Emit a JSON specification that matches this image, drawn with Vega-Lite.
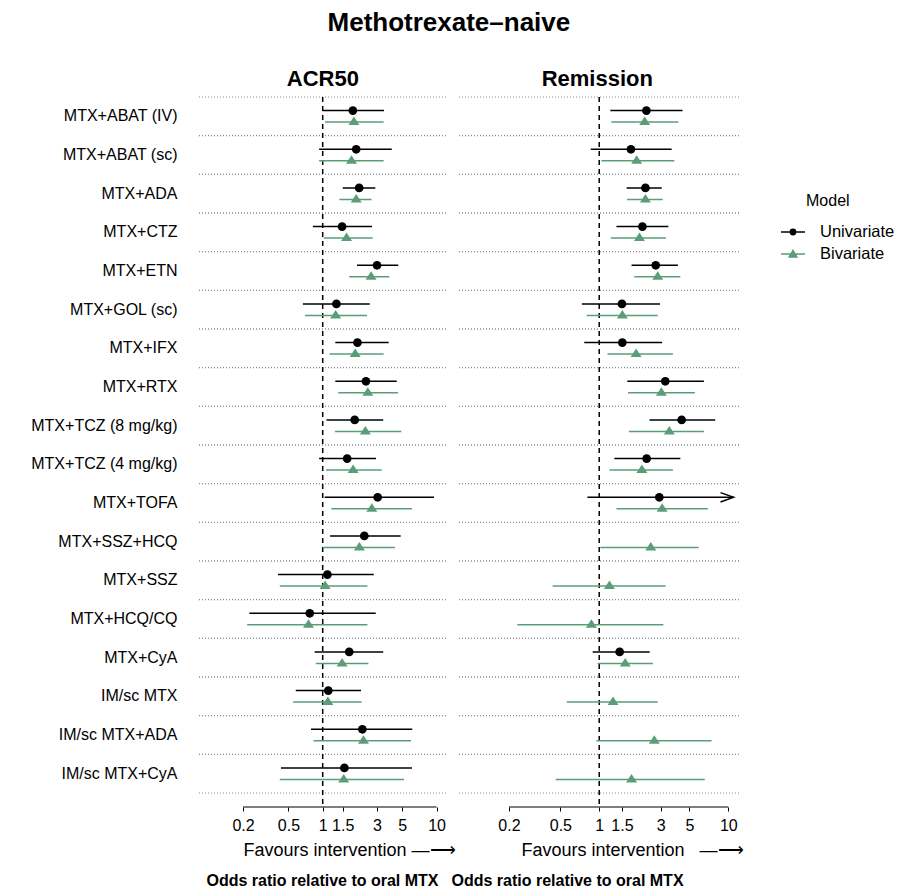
{
  "$schema": "https://vega.github.io/schema/vega-lite/v6.json",
  "background": "white",
  "padding": {"left": 30, "top": 10, "right": 0, "bottom": 0},
  "title": {"text": "Methotrexate–naive", "fontSize": 26, "fontWeight": "bold", "anchor": "middle", "offset": 32, "dx": -14},
  "datasets": {
    "acr": [
      {"treatment": "MTX+ABAT (IV)", "model": "Univariate", "or": 1.84, "lo": 1.00, "hi": 3.46},
      {"treatment": "MTX+ABAT (IV)", "model": "Bivariate", "or": 1.88, "lo": 1.05, "hi": 3.43},
      {"treatment": "MTX+ABAT (sc)", "model": "Univariate", "or": 1.97, "lo": 0.93, "hi": 4.04},
      {"treatment": "MTX+ABAT (sc)", "model": "Bivariate", "or": 1.79, "lo": 0.93, "hi": 3.43},
      {"treatment": "MTX+ADA", "model": "Univariate", "or": 2.09, "lo": 1.50, "hi": 2.90},
      {"treatment": "MTX+ADA", "model": "Bivariate", "or": 1.97, "lo": 1.40, "hi": 2.68},
      {"treatment": "MTX+CTZ", "model": "Univariate", "or": 1.48, "lo": 0.82, "hi": 2.71},
      {"treatment": "MTX+CTZ", "model": "Bivariate", "or": 1.62, "lo": 1.02, "hi": 2.75},
      {"treatment": "MTX+ETN", "model": "Univariate", "or": 3.00, "lo": 2.00, "hi": 4.61},
      {"treatment": "MTX+ETN", "model": "Bivariate", "or": 2.66, "lo": 1.71, "hi": 3.84},
      {"treatment": "MTX+GOL (sc)", "model": "Univariate", "or": 1.32, "lo": 0.67, "hi": 2.59},
      {"treatment": "MTX+GOL (sc)", "model": "Bivariate", "or": 1.30, "lo": 0.70, "hi": 2.45},
      {"treatment": "MTX+IFX", "model": "Univariate", "or": 2.02, "lo": 1.29, "hi": 3.80},
      {"treatment": "MTX+IFX", "model": "Bivariate", "or": 1.93, "lo": 1.15, "hi": 3.43},
      {"treatment": "MTX+RTX", "model": "Univariate", "or": 2.40, "lo": 1.29, "hi": 4.47},
      {"treatment": "MTX+RTX", "model": "Bivariate", "or": 2.49, "lo": 1.37, "hi": 4.58},
      {"treatment": "MTX+TCZ (8 mg/kg)", "model": "Univariate", "or": 1.91, "lo": 1.08, "hi": 3.40},
      {"treatment": "MTX+TCZ (8 mg/kg)", "model": "Bivariate", "or": 2.37, "lo": 1.28, "hi": 4.90},
      {"treatment": "MTX+TCZ (4 mg/kg)", "model": "Univariate", "or": 1.64, "lo": 0.93, "hi": 2.94},
      {"treatment": "MTX+TCZ (4 mg/kg)", "model": "Bivariate", "or": 1.85, "lo": 1.07, "hi": 3.30},
      {"treatment": "MTX+TOFA", "model": "Univariate", "or": 3.04, "lo": 1.04, "hi": 9.49},
      {"treatment": "MTX+TOFA", "model": "Bivariate", "or": 2.70, "lo": 1.19, "hi": 6.08},
      {"treatment": "MTX+SSZ+HCQ", "model": "Univariate", "or": 2.32, "lo": 1.16, "hi": 4.84},
      {"treatment": "MTX+SSZ+HCQ", "model": "Bivariate", "or": 2.10, "lo": 1.00, "hi": 4.31},
      {"treatment": "MTX+SSZ", "model": "Univariate", "or": 1.10, "lo": 0.405, "hi": 2.81},
      {"treatment": "MTX+SSZ", "model": "Bivariate", "or": 1.05, "lo": 0.42, "hi": 2.47},
      {"treatment": "MTX+HCQ/CQ", "model": "Univariate", "or": 0.77, "lo": 0.227, "hi": 2.92},
      {"treatment": "MTX+HCQ/CQ", "model": "Bivariate", "or": 0.75, "lo": 0.217, "hi": 2.47},
      {"treatment": "MTX+CyA", "model": "Univariate", "or": 1.71, "lo": 0.85, "hi": 3.40},
      {"treatment": "MTX+CyA", "model": "Bivariate", "or": 1.48, "lo": 0.87, "hi": 2.52},
      {"treatment": "IM/sc MTX", "model": "Univariate", "or": 1.12, "lo": 0.58, "hi": 2.17},
      {"treatment": "IM/sc MTX", "model": "Bivariate", "or": 1.11, "lo": 0.55, "hi": 2.20},
      {"treatment": "IM/sc MTX+ADA", "model": "Univariate", "or": 2.23, "lo": 0.79, "hi": 6.12},
      {"treatment": "IM/sc MTX+ADA", "model": "Bivariate", "or": 2.28, "lo": 0.83, "hi": 5.96},
      {"treatment": "IM/sc MTX+CyA", "model": "Univariate", "or": 1.55, "lo": 0.43, "hi": 6.08},
      {"treatment": "IM/sc MTX+CyA", "model": "Bivariate", "or": 1.53, "lo": 0.42, "hi": 5.17}
    ],
    "rem": [
      {"treatment": "MTX+ABAT (IV)", "model": "Univariate", "or": 2.32, "lo": 1.22, "hi": 4.42},
      {"treatment": "MTX+ABAT (IV)", "model": "Bivariate", "or": 2.25, "lo": 1.24, "hi": 4.10},
      {"treatment": "MTX+ABAT (sc)", "model": "Univariate", "or": 1.76, "lo": 0.86, "hi": 3.64},
      {"treatment": "MTX+ABAT (sc)", "model": "Bivariate", "or": 1.95, "lo": 1.04, "hi": 3.82},
      {"treatment": "MTX+ADA", "model": "Univariate", "or": 2.28, "lo": 1.63, "hi": 3.05},
      {"treatment": "MTX+ADA", "model": "Bivariate", "or": 2.28, "lo": 1.64, "hi": 3.10},
      {"treatment": "MTX+CTZ", "model": "Univariate", "or": 2.16, "lo": 1.36, "hi": 3.43},
      {"treatment": "MTX+CTZ", "model": "Bivariate", "or": 2.05, "lo": 1.23, "hi": 3.29},
      {"treatment": "MTX+ETN", "model": "Univariate", "or": 2.74, "lo": 1.78, "hi": 4.07},
      {"treatment": "MTX+ETN", "model": "Bivariate", "or": 2.84, "lo": 1.87, "hi": 4.25},
      {"treatment": "MTX+GOL (sc)", "model": "Univariate", "or": 1.50, "lo": 0.735, "hi": 2.96},
      {"treatment": "MTX+GOL (sc)", "model": "Bivariate", "or": 1.51, "lo": 0.80, "hi": 2.84},
      {"treatment": "MTX+IFX", "model": "Univariate", "or": 1.51, "lo": 0.766, "hi": 3.07},
      {"treatment": "MTX+IFX", "model": "Bivariate", "or": 1.93, "lo": 1.16, "hi": 3.72},
      {"treatment": "MTX+RTX", "model": "Univariate", "or": 3.25, "lo": 1.65, "hi": 6.47},
      {"treatment": "MTX+RTX", "model": "Bivariate", "or": 3.03, "lo": 1.67, "hi": 5.51},
      {"treatment": "MTX+TCZ (8 mg/kg)", "model": "Univariate", "or": 4.35, "lo": 2.45, "hi": 7.92},
      {"treatment": "MTX+TCZ (8 mg/kg)", "model": "Bivariate", "or": 3.49, "lo": 1.70, "hi": 6.47},
      {"treatment": "MTX+TCZ (4 mg/kg)", "model": "Univariate", "or": 2.33, "lo": 1.31, "hi": 4.25},
      {"treatment": "MTX+TCZ (4 mg/kg)", "model": "Bivariate", "or": 2.14, "lo": 1.20, "hi": 3.72},
      {"treatment": "MTX+TOFA", "model": "Univariate", "or": 2.92, "lo": 0.81, "hi": 11.0},
      {"treatment": "MTX+TOFA", "model": "Bivariate", "or": 3.07, "lo": 1.36, "hi": 6.94},
      {"treatment": "MTX+SSZ+HCQ", "model": "Bivariate", "or": 2.51, "lo": 1.02, "hi": 5.89},
      {"treatment": "MTX+SSZ", "model": "Bivariate", "or": 1.20, "lo": 0.436, "hi": 3.27},
      {"treatment": "MTX+HCQ/CQ", "model": "Bivariate", "or": 0.87, "lo": 0.232, "hi": 3.14},
      {"treatment": "MTX+CyA", "model": "Univariate", "or": 1.44, "lo": 0.89, "hi": 2.46},
      {"treatment": "MTX+CyA", "model": "Bivariate", "or": 1.59, "lo": 0.97, "hi": 2.61},
      {"treatment": "IM/sc MTX", "model": "Bivariate", "or": 1.28, "lo": 0.56, "hi": 2.84},
      {"treatment": "IM/sc MTX+ADA", "model": "Bivariate", "or": 2.67, "lo": 0.95, "hi": 7.42},
      {"treatment": "IM/sc MTX+CyA", "model": "Bivariate", "or": 1.78, "lo": 0.46, "hi": 6.57}
    ],
    "axisline": [{"a": 0.2, "b": 10}],
    "ref": [{"ref": 1}]
  },
  "spacing": -5,
  "hconcat": [
    {
      "title": {"text": "ACR50", "fontSize": 22, "fontWeight": "bold", "anchor": "start", "dx": 256, "offset": 5},
      "vconcat": [
        {
          "width": 247,
          "height": 710,
          "title": {"text": "Odds ratio relative to oral MTX", "orient": "bottom", "fontSize": 16, "fontWeight": "bold", "anchor": "middle", "offset": 14},
          "data": {"name": "acr"},
          "layer": [
            {
              "transform": [{"filter": "datum.model == 'Bivariate'"}],
              "mark": {"type": "rule", "strokeDash": [1, 2], "color": "#8a8a8a", "strokeWidth": 1},
              "encoding": {
                "y": {"field": "treatment", "type": "nominal", "bandPosition": 0,
                  "sort": ["MTX+ABAT (IV)", "MTX+ABAT (sc)", "MTX+ADA", "MTX+CTZ", "MTX+ETN", "MTX+GOL (sc)", "MTX+IFX", "MTX+RTX", "MTX+TCZ (8 mg/kg)", "MTX+TCZ (4 mg/kg)", "MTX+TOFA", "MTX+SSZ+HCQ", "MTX+SSZ", "MTX+HCQ/CQ", "MTX+CyA", "IM/sc MTX", "IM/sc MTX+ADA", "IM/sc MTX+CyA"],
                  "scale": {"range": [0, 696], "paddingInner": 0, "paddingOuter": 0},
                  "axis": {"title": null}}
              }
            },
            {
              "transform": [{"filter": "datum.model == 'Bivariate'"}],
              "mark": {"type": "rule", "strokeDash": [1, 2], "color": "#8a8a8a", "strokeWidth": 1},
              "encoding": {
                "y": {"field": "treatment", "type": "nominal", "bandPosition": 1,
                  "sort": ["MTX+ABAT (IV)", "MTX+ABAT (sc)", "MTX+ADA", "MTX+CTZ", "MTX+ETN", "MTX+GOL (sc)", "MTX+IFX", "MTX+RTX", "MTX+TCZ (8 mg/kg)", "MTX+TCZ (4 mg/kg)", "MTX+TOFA", "MTX+SSZ+HCQ", "MTX+SSZ", "MTX+HCQ/CQ", "MTX+CyA", "IM/sc MTX", "IM/sc MTX+ADA", "IM/sc MTX+CyA"],
                  "axis": {"title": null}}
              }
            },
            {
              "data": {"name": "ref"},
              "mark": {"type": "rule", "strokeDash": [5, 4], "color": "black", "strokeWidth": 1.5},
              "encoding": {
                "x": {"field": "ref", "type": "quantitative", "scale": {"type": "log", "domain": [0.082, 12.1], "nice": false},
                  "axis": {"values": [0.2, 0.5, 1, 1.5, 3, 5, 10], "format": "~g", "title": "Favours intervention —⟶", "titleAnchor": "start", "titleAlign": "left", "titleX": 44}}
              }
            },
            {
              "data": {"name": "axisline"},
              "mark": {"type": "rule", "color": "black", "strokeWidth": 1},
              "encoding": {
                "x": {"field": "a", "type": "quantitative", "scale": {"type": "log", "domain": [0.082, 12.1], "nice": false},
                  "axis": {"values": [0.2, 0.5, 1, 1.5, 3, 5, 10], "format": "~g", "title": "Favours intervention —⟶", "titleAnchor": "start", "titleAlign": "left", "titleX": 44}},
                "x2": {"field": "b"},
                "y": {"value": "height"}
              }
            },
            {
              "mark": {"type": "rule", "strokeWidth": 1.5},
              "encoding": {
                "y": {"field": "treatment", "type": "nominal",
                  "sort": ["MTX+ABAT (IV)", "MTX+ABAT (sc)", "MTX+ADA", "MTX+CTZ", "MTX+ETN", "MTX+GOL (sc)", "MTX+IFX", "MTX+RTX", "MTX+TCZ (8 mg/kg)", "MTX+TCZ (4 mg/kg)", "MTX+TOFA", "MTX+SSZ+HCQ", "MTX+SSZ", "MTX+HCQ/CQ", "MTX+CyA", "IM/sc MTX", "IM/sc MTX+ADA", "IM/sc MTX+CyA"],
                  "axis": {"title": null}},
                "yOffset": {"field": "model", "type": "nominal", "sort": ["Univariate", "Bivariate"], "scale": {"domain": ["Univariate", "Bivariate"], "paddingInner": 0, "paddingOuter": 0.69}},
                "x": {"field": "lo", "type": "quantitative", "scale": {"type": "log", "domain": [0.082, 12.1], "nice": false},
                  "axis": {"values": [0.2, 0.5, 1, 1.5, 3, 5, 10], "format": "~g", "title": "Favours intervention —⟶", "titleAnchor": "start", "titleAlign": "left", "titleX": 44}},
                "x2": {"field": "hi"},
                "color": {"field": "model", "type": "nominal", "sort": ["Univariate", "Bivariate"], "scale": {"domain": ["Univariate", "Bivariate"], "range": ["#000000", "#5A9E78"]},
                  "legend": {"title": "Model", "orient": "none", "legendX": 581, "legendY": 96, "titleFontSize": 16, "titleFontWeight": "normal", "titleColor": "black", "titleAnchor": "start", "labelFontSize": 16.5, "labelColor": "black", "symbolType": "M-1,0L1,0M0.22,0A0.22,0.22,0,1,1,-0.22,0A0.22,0.22,0,1,1,0.22,0Z", "symbolSize": 576, "symbolStrokeWidth": 1.5, "symbolOpacity": 1, "rowPadding": -5, "titlePadding": 10, "labelOffset": 14,
                    "encoding": {
                      "symbols": {
                        "shape": {"value": {"expr": "datum.value === 'Univariate' ? 'M-1,0L1,0M0.22,0A0.22,0.22,0,1,1,-0.22,0A0.22,0.22,0,1,1,0.22,0Z' : 'M-1,0L1,0M0,-0.3L-0.32,0.24L0.32,0.24Z'"}},
                        "stroke": {"value": {"expr": "datum.value === 'Univariate' ? '#000000' : '#5A9E78'"}},
                        "fill": {"value": {"expr": "datum.value === 'Univariate' ? '#000000' : '#5A9E78'"}},
                        "strokeWidth": {"value": 1.5}
                      },
                      "title": {"dx": {"value": 26}}
                    }}}
              }
            },
            {
              "transform": [{"filter": "datum.model == 'Univariate'"}],
              "mark": {"type": "point", "filled": true, "opacity": 1, "shape": "circle", "size": 76},
              "encoding": {
                "y": {"field": "treatment", "type": "nominal",
                  "sort": ["MTX+ABAT (IV)", "MTX+ABAT (sc)", "MTX+ADA", "MTX+CTZ", "MTX+ETN", "MTX+GOL (sc)", "MTX+IFX", "MTX+RTX", "MTX+TCZ (8 mg/kg)", "MTX+TCZ (4 mg/kg)", "MTX+TOFA", "MTX+SSZ+HCQ", "MTX+SSZ", "MTX+HCQ/CQ", "MTX+CyA", "IM/sc MTX", "IM/sc MTX+ADA", "IM/sc MTX+CyA"],
                  "axis": {"title": null}},
                "yOffset": {"field": "model", "type": "nominal", "sort": ["Univariate", "Bivariate"], "scale": {"domain": ["Univariate", "Bivariate"], "paddingInner": 0, "paddingOuter": 0.69}},
                "x": {"field": "or", "type": "quantitative", "scale": {"type": "log", "domain": [0.082, 12.1], "nice": false},
                  "axis": {"values": [0.2, 0.5, 1, 1.5, 3, 5, 10], "format": "~g", "title": "Favours intervention —⟶", "titleAnchor": "start", "titleAlign": "left", "titleX": 44}},
                "color": {"field": "model", "type": "nominal", "sort": ["Univariate", "Bivariate"], "scale": {"domain": ["Univariate", "Bivariate"], "range": ["#000000", "#5A9E78"]}}
              }
            },
            {
              "transform": [{"filter": "datum.model == 'Bivariate'"}],
              "mark": {"type": "point", "filled": true, "opacity": 1, "shape": "M0,-1.1L-1.1,0.6L1.1,0.6Z", "size": 100},
              "encoding": {
                "y": {"field": "treatment", "type": "nominal",
                  "sort": ["MTX+ABAT (IV)", "MTX+ABAT (sc)", "MTX+ADA", "MTX+CTZ", "MTX+ETN", "MTX+GOL (sc)", "MTX+IFX", "MTX+RTX", "MTX+TCZ (8 mg/kg)", "MTX+TCZ (4 mg/kg)", "MTX+TOFA", "MTX+SSZ+HCQ", "MTX+SSZ", "MTX+HCQ/CQ", "MTX+CyA", "IM/sc MTX", "IM/sc MTX+ADA", "IM/sc MTX+CyA"],
                  "axis": {"title": null}},
                "yOffset": {"field": "model", "type": "nominal", "sort": ["Univariate", "Bivariate"], "scale": {"domain": ["Univariate", "Bivariate"], "paddingInner": 0, "paddingOuter": 0.69}},
                "x": {"field": "or", "type": "quantitative", "scale": {"type": "log", "domain": [0.082, 12.1], "nice": false},
                  "axis": {"values": [0.2, 0.5, 1, 1.5, 3, 5, 10], "format": "~g", "title": "Favours intervention —⟶", "titleAnchor": "start", "titleAlign": "left", "titleX": 44}},
                "color": {"field": "model", "type": "nominal", "sort": ["Univariate", "Bivariate"], "scale": {"domain": ["Univariate", "Bivariate"], "range": ["#000000", "#5A9E78"]}}
              }
            }
          ]
        }
      ]
    },
    {
      "title": {"text": "Remission", "fontSize": 22, "fontWeight": "bold", "anchor": "middle", "offset": 5},
      "vconcat": [
        {
          "width": 280,
          "height": 710,
          "title": {"text": "Odds ratio relative to oral MTX", "orient": "bottom", "fontSize": 16, "fontWeight": "bold", "anchor": "start", "dx": -7, "offset": 14},
          "data": {"name": "rem"},
          "layer": [
            {
              "transform": [{"filter": "datum.model == 'Bivariate'"}],
              "mark": {"type": "rule", "strokeDash": [1, 2], "color": "#8a8a8a", "strokeWidth": 1},
              "encoding": {
                "y": {"field": "treatment", "type": "nominal", "bandPosition": 0,
                  "sort": ["MTX+ABAT (IV)", "MTX+ABAT (sc)", "MTX+ADA", "MTX+CTZ", "MTX+ETN", "MTX+GOL (sc)", "MTX+IFX", "MTX+RTX", "MTX+TCZ (8 mg/kg)", "MTX+TCZ (4 mg/kg)", "MTX+TOFA", "MTX+SSZ+HCQ", "MTX+SSZ", "MTX+HCQ/CQ", "MTX+CyA", "IM/sc MTX", "IM/sc MTX+ADA", "IM/sc MTX+CyA"],
                  "scale": {"range": [0, 696], "paddingInner": 0, "paddingOuter": 0},
                  "axis": null}
              }
            },
            {
              "transform": [{"filter": "datum.model == 'Bivariate'"}],
              "mark": {"type": "rule", "strokeDash": [1, 2], "color": "#8a8a8a", "strokeWidth": 1},
              "encoding": {
                "y": {"field": "treatment", "type": "nominal", "bandPosition": 1,
                  "sort": ["MTX+ABAT (IV)", "MTX+ABAT (sc)", "MTX+ADA", "MTX+CTZ", "MTX+ETN", "MTX+GOL (sc)", "MTX+IFX", "MTX+RTX", "MTX+TCZ (8 mg/kg)", "MTX+TCZ (4 mg/kg)", "MTX+TOFA", "MTX+SSZ+HCQ", "MTX+SSZ", "MTX+HCQ/CQ", "MTX+CyA", "IM/sc MTX", "IM/sc MTX+ADA", "IM/sc MTX+CyA"],
                  "axis": null}
              }
            },
            {
              "data": {"name": "ref"},
              "mark": {"type": "rule", "strokeDash": [5, 4], "color": "black", "strokeWidth": 1.5},
              "encoding": {
                "x": {"field": "ref", "type": "quantitative", "scale": {"type": "log", "domain": [0.082, 12.1], "nice": false},
                  "axis": {"values": [0.2, 0.5, 1, 1.5, 3, 5, 10], "format": "~g", "title": "Favours intervention\u00a0\u00a0\u00a0—⟶", "titleAnchor": "start", "titleAlign": "left", "titleX": 62}}
              }
            },
            {
              "data": {"name": "axisline"},
              "mark": {"type": "rule", "color": "black", "strokeWidth": 1},
              "encoding": {
                "x": {"field": "a", "type": "quantitative", "scale": {"type": "log", "domain": [0.082, 12.1], "nice": false},
                  "axis": {"values": [0.2, 0.5, 1, 1.5, 3, 5, 10], "format": "~g", "title": "Favours intervention\u00a0\u00a0\u00a0—⟶", "titleAnchor": "start", "titleAlign": "left", "titleX": 62}},
                "x2": {"field": "b"},
                "y": {"value": "height"}
              }
            },
            {
              "mark": {"type": "rule", "strokeWidth": 1.5},
              "encoding": {
                "y": {"field": "treatment", "type": "nominal",
                  "sort": ["MTX+ABAT (IV)", "MTX+ABAT (sc)", "MTX+ADA", "MTX+CTZ", "MTX+ETN", "MTX+GOL (sc)", "MTX+IFX", "MTX+RTX", "MTX+TCZ (8 mg/kg)", "MTX+TCZ (4 mg/kg)", "MTX+TOFA", "MTX+SSZ+HCQ", "MTX+SSZ", "MTX+HCQ/CQ", "MTX+CyA", "IM/sc MTX", "IM/sc MTX+ADA", "IM/sc MTX+CyA"],
                  "axis": null},
                "yOffset": {"field": "model", "type": "nominal", "sort": ["Univariate", "Bivariate"], "scale": {"domain": ["Univariate", "Bivariate"], "paddingInner": 0, "paddingOuter": 0.69}},
                "x": {"field": "lo", "type": "quantitative", "scale": {"type": "log", "domain": [0.082, 12.1], "nice": false},
                  "axis": {"values": [0.2, 0.5, 1, 1.5, 3, 5, 10], "format": "~g", "title": "Favours intervention\u00a0\u00a0\u00a0—⟶", "titleAnchor": "start", "titleAlign": "left", "titleX": 62}},
                "x2": {"field": "hi"},
                "color": {"field": "model", "type": "nominal", "sort": ["Univariate", "Bivariate"], "scale": {"domain": ["Univariate", "Bivariate"], "range": ["#000000", "#5A9E78"]},
                  "legend": {"title": "Model", "orient": "none", "legendX": 581, "legendY": 96, "titleFontSize": 16, "titleFontWeight": "normal", "titleColor": "black", "titleAnchor": "start", "labelFontSize": 16.5, "labelColor": "black", "symbolType": "M-1,0L1,0M0.22,0A0.22,0.22,0,1,1,-0.22,0A0.22,0.22,0,1,1,0.22,0Z", "symbolSize": 576, "symbolStrokeWidth": 1.5, "symbolOpacity": 1, "rowPadding": -5, "titlePadding": 10, "labelOffset": 14,
                    "encoding": {
                      "symbols": {
                        "shape": {"value": {"expr": "datum.value === 'Univariate' ? 'M-1,0L1,0M0.22,0A0.22,0.22,0,1,1,-0.22,0A0.22,0.22,0,1,1,0.22,0Z' : 'M-1,0L1,0M0,-0.3L-0.32,0.24L0.32,0.24Z'"}},
                        "stroke": {"value": {"expr": "datum.value === 'Univariate' ? '#000000' : '#5A9E78'"}},
                        "fill": {"value": {"expr": "datum.value === 'Univariate' ? '#000000' : '#5A9E78'"}},
                        "strokeWidth": {"value": 1.5}
                      },
                      "title": {"dx": {"value": 26}}
                    }}}
              }
            },
            {
              "transform": [{"filter": "datum.hi >= 11"}],
              "mark": {"type": "point", "filled": false, "strokeWidth": 1.4, "opacity": 1, "shape": "M-2.8,-1L0,0L-2.8,1", "size": 88},
              "encoding": {
                "y": {"field": "treatment", "type": "nominal",
                  "sort": ["MTX+ABAT (IV)", "MTX+ABAT (sc)", "MTX+ADA", "MTX+CTZ", "MTX+ETN", "MTX+GOL (sc)", "MTX+IFX", "MTX+RTX", "MTX+TCZ (8 mg/kg)", "MTX+TCZ (4 mg/kg)", "MTX+TOFA", "MTX+SSZ+HCQ", "MTX+SSZ", "MTX+HCQ/CQ", "MTX+CyA", "IM/sc MTX", "IM/sc MTX+ADA", "IM/sc MTX+CyA"],
                  "axis": null},
                "yOffset": {"field": "model", "type": "nominal", "sort": ["Univariate", "Bivariate"], "scale": {"domain": ["Univariate", "Bivariate"], "paddingInner": 0, "paddingOuter": 0.69}},
                "x": {"field": "hi", "type": "quantitative", "scale": {"type": "log", "domain": [0.082, 12.1], "nice": false},
                  "axis": {"values": [0.2, 0.5, 1, 1.5, 3, 5, 10], "format": "~g", "title": "Favours intervention\u00a0\u00a0\u00a0—⟶", "titleAnchor": "start", "titleAlign": "left", "titleX": 62}},
                "color": {"field": "model", "type": "nominal", "sort": ["Univariate", "Bivariate"], "scale": {"domain": ["Univariate", "Bivariate"], "range": ["#000000", "#5A9E78"]}}
              }
            },
            {
              "transform": [{"filter": "datum.model == 'Univariate'"}],
              "mark": {"type": "point", "filled": true, "opacity": 1, "shape": "circle", "size": 76},
              "encoding": {
                "y": {"field": "treatment", "type": "nominal",
                  "sort": ["MTX+ABAT (IV)", "MTX+ABAT (sc)", "MTX+ADA", "MTX+CTZ", "MTX+ETN", "MTX+GOL (sc)", "MTX+IFX", "MTX+RTX", "MTX+TCZ (8 mg/kg)", "MTX+TCZ (4 mg/kg)", "MTX+TOFA", "MTX+SSZ+HCQ", "MTX+SSZ", "MTX+HCQ/CQ", "MTX+CyA", "IM/sc MTX", "IM/sc MTX+ADA", "IM/sc MTX+CyA"],
                  "axis": null},
                "yOffset": {"field": "model", "type": "nominal", "sort": ["Univariate", "Bivariate"], "scale": {"domain": ["Univariate", "Bivariate"], "paddingInner": 0, "paddingOuter": 0.69}},
                "x": {"field": "or", "type": "quantitative", "scale": {"type": "log", "domain": [0.082, 12.1], "nice": false},
                  "axis": {"values": [0.2, 0.5, 1, 1.5, 3, 5, 10], "format": "~g", "title": "Favours intervention\u00a0\u00a0\u00a0—⟶", "titleAnchor": "start", "titleAlign": "left", "titleX": 62}},
                "color": {"field": "model", "type": "nominal", "sort": ["Univariate", "Bivariate"], "scale": {"domain": ["Univariate", "Bivariate"], "range": ["#000000", "#5A9E78"]}}
              }
            },
            {
              "transform": [{"filter": "datum.model == 'Bivariate'"}],
              "mark": {"type": "point", "filled": true, "opacity": 1, "shape": "M0,-1.1L-1.1,0.6L1.1,0.6Z", "size": 100},
              "encoding": {
                "y": {"field": "treatment", "type": "nominal",
                  "sort": ["MTX+ABAT (IV)", "MTX+ABAT (sc)", "MTX+ADA", "MTX+CTZ", "MTX+ETN", "MTX+GOL (sc)", "MTX+IFX", "MTX+RTX", "MTX+TCZ (8 mg/kg)", "MTX+TCZ (4 mg/kg)", "MTX+TOFA", "MTX+SSZ+HCQ", "MTX+SSZ", "MTX+HCQ/CQ", "MTX+CyA", "IM/sc MTX", "IM/sc MTX+ADA", "IM/sc MTX+CyA"],
                  "axis": null},
                "yOffset": {"field": "model", "type": "nominal", "sort": ["Univariate", "Bivariate"], "scale": {"domain": ["Univariate", "Bivariate"], "paddingInner": 0, "paddingOuter": 0.69}},
                "x": {"field": "or", "type": "quantitative", "scale": {"type": "log", "domain": [0.082, 12.1], "nice": false},
                  "axis": {"values": [0.2, 0.5, 1, 1.5, 3, 5, 10], "format": "~g", "title": "Favours intervention\u00a0\u00a0\u00a0—⟶", "titleAnchor": "start", "titleAlign": "left", "titleX": 62}},
                "color": {"field": "model", "type": "nominal", "sort": ["Univariate", "Bivariate"], "scale": {"domain": ["Univariate", "Bivariate"], "range": ["#000000", "#5A9E78"]}}
              }
            }
          ]
        }
      ]
    }
  ],
  "config": {
    "font": "Liberation Sans",
    "view": {"stroke": null},
    "title": {"color": "black", "font": "Liberation Sans"},
    "axisX": {"domain": false, "grid": false, "ticks": true, "tickSize": 4, "tickColor": "black", "labelFontSize": 16, "labelPadding": 6, "labelOverlap": false, "labelFlush": false, "labelBound": false, "labelColor": "black", "labelFont": "Liberation Sans", "titleFont": "Liberation Sans", "titleFontSize": 18, "titleFontWeight": "normal", "titleColor": "black", "titlePadding": 8},
    "axisY": {"domain": false, "ticks": false, "grid": false, "labelFontSize": 16, "labelPadding": 22, "labelColor": "black", "labelFont": "Liberation Sans"},
    "legend": {"labelFont": "Liberation Sans", "titleFont": "Liberation Sans"}
  }
}
